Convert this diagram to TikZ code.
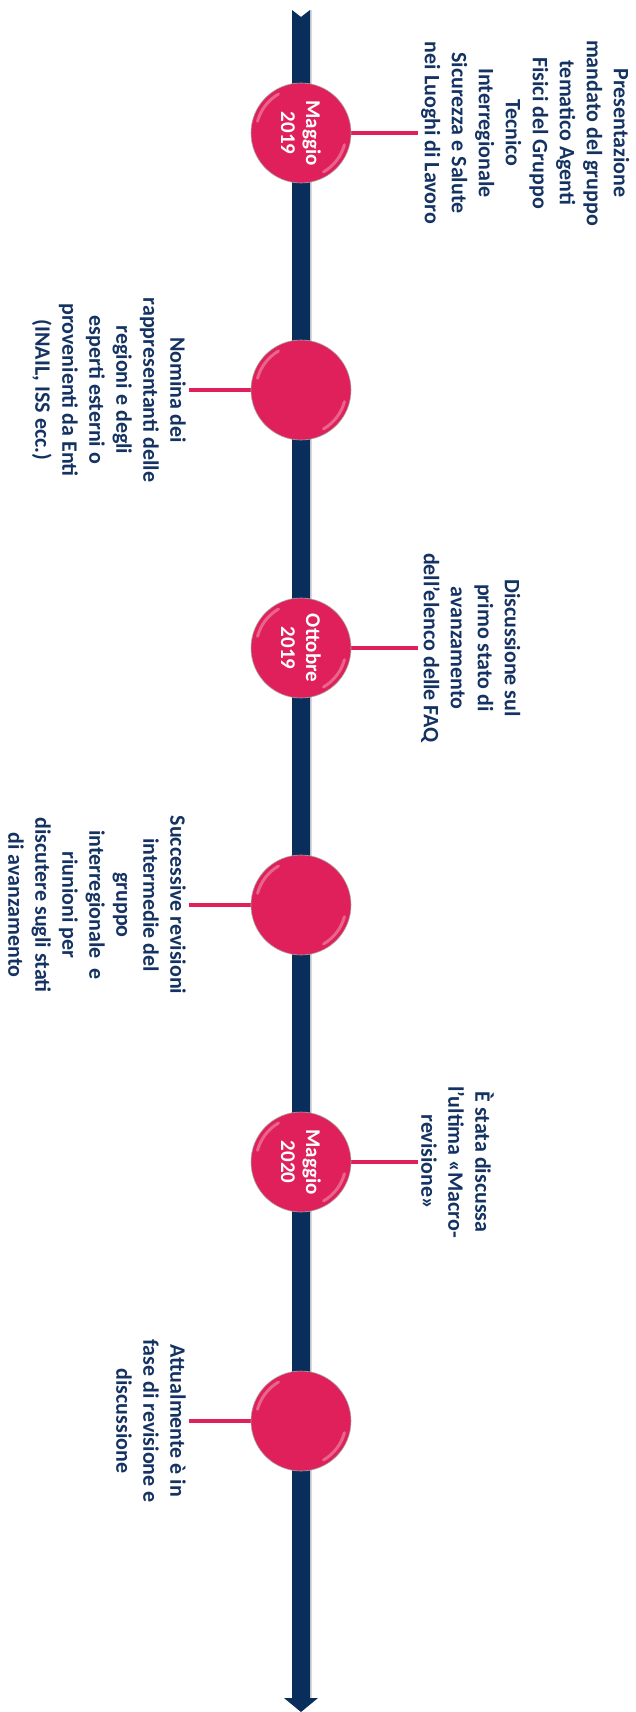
\documentclass[tikz,border=0pt]{standalone}
\usepackage{fontspec}
\setmainfont{Carlito}
\definecolor{axisblue}{RGB}{10,46,91}
\definecolor{textblue}{RGB}{20,50,98}
\definecolor{dotpink}{RGB}{224,32,90}

\begin{document}
\begin{tikzpicture}[x=1pt,y=-1pt,
  dot/.style={circle,fill=dotpink,draw=gray!70,line width=0.6pt,minimum size=100pt,inner sep=0pt},
  datelabel/.style={text=white,font=\bfseries\fontsize{21}{25}\selectfont,align=center,rotate=-90,inner sep=0pt},
  stem/.style={draw=dotpink,line width=4pt},
  eventtext/.style={text=textblue,font=\bfseries\fontsize{22}{27}\selectfont,align=center,rotate=-90,inner sep=3pt},
  shine/.style={white,opacity=0.3,line width=3pt,line cap=round}]
\useasboundingbox (0,0) rectangle (635,1712);

% time axis
\fill[gray!30] (310,10) rectangle (312,1698);
\fill[axisblue] (292,10) -- (301,17) -- (310,10) -- (310,1698) -- (318,1698) -- (301,1712) -- (284,1698) -- (292,1698) -- cycle;

% ends of the stems
\coordinate (e1) at (418,133);
\coordinate (e2) at (189,390);
\coordinate (e3) at (418,648);
\coordinate (e4) at (189,905);
\coordinate (e5) at (418,1162);
\coordinate (e6) at (189,1421);

\draw[stem] (301,133) -- (e1);
\draw[stem] (301,390) -- (e2);
\draw[stem] (301,648) -- (e3);
\draw[stem] (301,905) -- (e4);
\draw[stem] (301,1162) -- (e5);
\draw[stem] (301,1421) -- (e6);

\node[dot] (d1) at (301,133) {};
\node[dot] (d2) at (301,390) {};
\node[dot] (d3) at (301,648) {};
\node[dot] (d4) at (301,905) {};
\node[dot] (d5) at (301,1162) {};
\node[dot] (d6) at (301,1421) {};

\foreach \d in {d1,d2,d3,d4,d5,d6} {
  \draw[shine] (\d.center) ++(-165:45) arc[start angle=-165,end angle=-120,radius=45];
  \draw[shine] (\d.center) ++(15:45) arc[start angle=15,end angle=60,radius=45];
}

\node[datelabel] (m1) at (d1.center) {Maggio\\2019};
\node[datelabel] (m3) at (d3.center) {Ottobre\\2019};
\node[datelabel] (m5) at (d5.center) {Maggio\\2020};

\node[eventtext,anchor=south] (t1) at (e1) {Presentazione\\mandato del gruppo\\tematico Agenti\\Fisici del Gruppo\\Tecnico\\Interregionale\\Sicurezza e Salute\\nei Luoghi di Lavoro};
\node[eventtext,anchor=north] (t2) at (e2) {Nomina dei\\rappresentanti delle\\regioni e degli\\esperti esterni o\\provenienti da Enti\\(INAIL, ISS ecc.)};
\node[eventtext,anchor=south] (t3) at (e3) {Discussione sul\\primo stato di\\avanzamento\\dell’elenco delle FAQ};
\node[eventtext,anchor=north] (t4) at (e4) {Successive revisioni\\intermedie del\\gruppo\\interregionale\ \ e\\riunioni per\\discutere sugli stati\\di avanzamento};
\node[eventtext,anchor=south] (t5) at (e5) {È stata discussa\\l’ultima «Macro-\\revisione»};
\node[eventtext,anchor=north] (t6) at (e6) {Attualmente è in\\fase di revisione e\\discussione};
\end{tikzpicture}
\end{document}
